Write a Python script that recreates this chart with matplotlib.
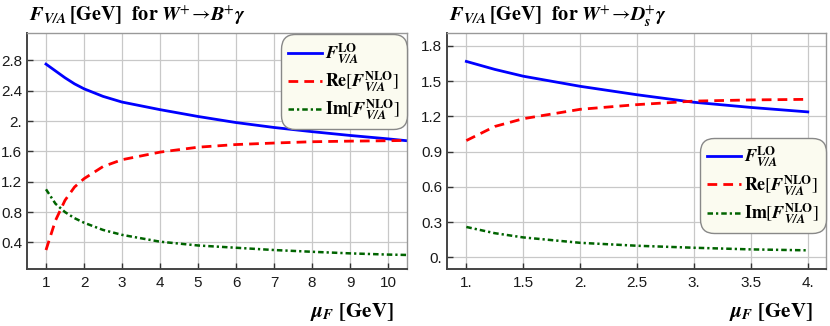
import numpy as np
import matplotlib
matplotlib.use("Agg")
import matplotlib.pyplot as plt

plt.rcParams['mathtext.fontset'] = 'stix'
plt.rcParams['font.family'] = ['Liberation Sans', 'DejaVu Sans']

# left panel: W+ -> B+ gamma
mu_b = [1, 1.25, 1.5, 1.75, 2, 2.5, 3, 4, 5, 6, 7, 8, 9, 10, 10.5]
lo_b = [2.75, 2.66, 2.57, 2.49, 2.425, 2.325, 2.25, 2.15, 2.06, 1.98, 1.915, 1.86, 1.81, 1.765, 1.74]
re_b = [0.30, 0.69, 0.955, 1.13, 1.24, 1.40, 1.49, 1.59, 1.655, 1.69, 1.71, 1.727, 1.735, 1.74, 1.745]
im_b = [1.10, 0.91, 0.80, 0.72, 0.66, 0.565, 0.50, 0.41, 0.36, 0.33, 0.30, 0.277, 0.256, 0.24, 0.235]

# right panel: W+ -> Ds+ gamma
mu_d = [1, 1.25, 1.5, 2, 2.5, 3, 3.5, 4]
lo_d = [1.668, 1.60, 1.542, 1.456, 1.384, 1.32, 1.276, 1.238]
re_d = [0.994, 1.114, 1.18, 1.26, 1.30, 1.33, 1.34, 1.345]
im_d = [0.258, 0.205, 0.169, 0.123, 0.098, 0.081, 0.067, 0.059]

xt_b = [1, 2, 3, 4, 5, 6, 7, 8, 9, 10]
yt_b = [0.4, 0.8, 1.2, 1.6, 2.0, 2.4, 2.8]
ytl_b = ['0.4', '0.8', '1.2', '1.6', '2.', '2.4', '2.8']
xt_d = [1, 1.5, 2, 2.5, 3, 3.5, 4]
xtl_d = ['1.', '1.5', '2.', '2.5', '3.', '3.5', '4.']
yt_d = [0, 0.3, 0.6, 0.9, 1.2, 1.5, 1.8]
ytl_d = ['0.', '0.3', '0.6', '0.9', '1.2', '1.5', '1.8']

F = r'\mathbfit{F}'
VA = r'_{\mathbfit{V/A}}'
labels = [r'$' + F + r'^{\mathbf{LO}}' + VA + r'$',
          r'$\mathbf{Re}[' + F + r'^{\mathbf{NLO}}' + VA + r']$',
          r'$\mathbf{Im}[' + F + r'^{\mathbf{NLO}}' + VA + r']$']

titles = [r'$' + F + VA + r'\,\mathbf{[GeV]}\ \ \mathbf{for}\ \mathbfit{W}^{+}\!\rightarrow\!\mathbfit{B}^{+}\mathbfit{\gamma}$',
          r'$' + F + VA + r'\,\mathbf{[GeV]}\ \ \mathbf{for}\ \mathbfit{W}^{+}\!\rightarrow\!\mathbfit{D}_{\mathbfit{s}}^{+}\mathbfit{\gamma}$']

fig = plt.figure(figsize=(8.3, 3.26), dpi=100)
W, H = 830, 326
ax1 = fig.add_axes([27 / W, 1 - 269 / H, 380 / W, 236 / H])
ax2 = fig.add_axes([447 / W, 1 - 269 / H, 379 / W, 236 / H])

panels = [
    (ax1, mu_b, lo_b, re_b, im_b, (0.5, 10.5), (0.05, 3.16), xt_b, [str(v) for v in xt_b], yt_b, ytl_b,
     (1.0, 0.995)),
    (ax2, mu_d, lo_d, re_d, im_d, (0.83, 4.16), (-0.1, 1.91), xt_d, xtl_d, yt_d, ytl_d,
     (1.0, 0.556)),
]

for i, (ax, x, lo, re, im, xl, yl, xt, xtl, yt, ytl, anchor) in enumerate(panels):
    ax.plot(x, lo, color='#0000ff', lw=2.0, label=labels[0])
    ax.plot(x, re, color='#ff0000', lw=2.0, dashes=(3.5, 2.2), label=labels[1])
    ax.plot(x, im, color='#006400', lw=1.8, dashes=(2.2, 1.2, 0.9, 1.2), label=labels[2])
    ax.set_xlim(*xl)
    ax.set_ylim(*yl)
    ax.set_xticks(xt)
    ax.set_xticklabels(xtl)
    ax.set_yticks(yt)
    ax.set_yticklabels(ytl)
    ax.grid(True, color='#c8c8c8', lw=0.9)
    ax.set_axisbelow(True)
    ax.tick_params(direction='in', length=4, width=1, colors='#333333', labelsize=11,
                   labelcolor='#1a1a1a', pad=5)
    ax.tick_params(axis='y', pad=3.5)
    for s in ['left', 'bottom']:
        ax.spines[s].set_color('#444444')
        ax.spines[s].set_linewidth(1.4)
    for s in ['top', 'right']:
        ax.spines[s].set_color('#999999')
        ax.spines[s].set_linewidth(1.0)
    leg = ax.legend(loc='upper right', bbox_to_anchor=anchor, borderaxespad=0, fontsize=13,
                    handlelength=1.9, handletextpad=0.15, labelspacing=0.22, borderpad=0.4,
                    fancybox=True, framealpha=1)
    fr = leg.get_frame()
    fr.set_facecolor('#fbfbf0')
    fr.set_edgecolor('#888888')
    fr.set_linewidth(1.0)
    fr.set_boxstyle('round,pad=0,rounding_size=0.8')
    ax.text(0.005, 1.076, titles[i], transform=ax.transAxes, fontsize=14.5, ha='left', va='center')
    ax.text(0.965, -0.181, r'$\mathbfit{\mu}_{\mathbfit{F}}\ \mathbf{[GeV]}$', transform=ax.transAxes,
            fontsize=15, ha='right', va='center')

fig.savefig('out.png', dpi=100)
